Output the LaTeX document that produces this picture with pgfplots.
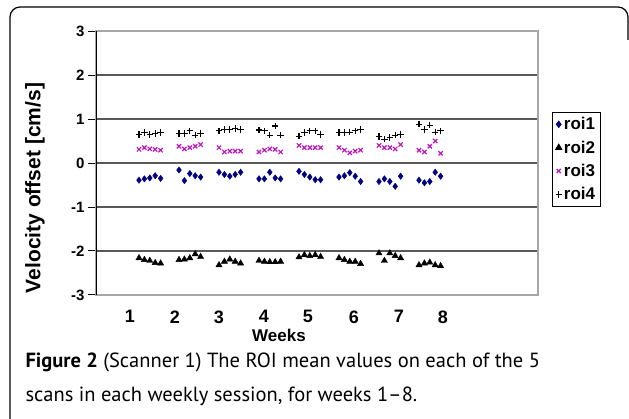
\documentclass[border=0pt]{standalone}
\usepackage{pgfplots}
\pgfplotsset{compat=1.18}
\usepackage{fontspec}
\setmainfont{Liberation Sans}
\newfontfamily\capfont{PT Sans}
\definecolor{roiblue}{RGB}{0,0,128}
\definecolor{roimag}{RGB}{190,20,190}
\begin{document}
\begin{tikzpicture}[x=1pt,y=1pt]
\path[use as bounding box] (0,0) rectangle (629,-419);
\draw[line width=1.2pt, rounded corners=10pt] (10,-430) -- (10,-7) -- (628,-7) -- (628,-40);
\begin{axis}[
  at={(96pt,-295pt)}, anchor=south west, scale only axis,
  width=442pt, height=264pt,
  xmin=-0.075, xmax=10.975, ymin=-3, ymax=3,
  ytick={-3,-2,-1,0,1,2,3},
  xtick={0.775,1.9,3.0,4.125,5.225,6.375,7.5,8.6},
  xticklabels={1,2,3,4,5,6,7,8},
  /pgf/number format/assume math mode=true,
  yticklabel style={font=\bfseries\fontsize{15}{15}\selectfont},
  xticklabel style={font=\bfseries\fontsize{18}{18}\selectfont, yshift=-4pt},
  x tick style={draw=none},
  ytick pos=left, tick align=outside, major tick length=8pt,
  y tick style={black, line width=1pt},
  ymajorgrids,
  grid style={black!65, line width=1.3pt},
  axis line style={draw=black!35, line width=1.2pt},
  legend style={at={(1.032,0.693)}, anchor=north west, draw=black, line width=0.8pt,
    font=\bfseries\fontsize{17}{19}\selectfont, inner sep=3pt, row sep=5.5pt,
    cells={anchor=west}},
  legend cell align=left,
]
\draw[black, line width=1.2pt] (rel axis cs:0,0) -- (rel axis cs:0,1);
\addplot[only marks, mark=diamond*, mark size=3.2pt, color=roiblue] coordinates {
(1.00,-0.39)(1.135,-0.36)(1.27,-0.34)(1.405,-0.29)(1.54,-0.35)
(2.00,-0.16)(2.135,-0.40)(2.27,-0.24)(2.405,-0.29)(2.54,-0.32)
(3.00,-0.21)(3.135,-0.26)(3.27,-0.30)(3.405,-0.26)(3.54,-0.21)
(4.00,-0.36)(4.135,-0.36)(4.27,-0.21)(4.405,-0.34)(4.54,-0.36)
(5.00,-0.19)(5.135,-0.26)(5.27,-0.32)(5.405,-0.38)(5.54,-0.38)
(6.00,-0.32)(6.135,-0.29)(6.27,-0.22)(6.405,-0.30)(6.54,-0.42)
(7.00,-0.42)(7.135,-0.36)(7.27,-0.42)(7.405,-0.53)(7.54,-0.30)
(8.00,-0.39)(8.135,-0.45)(8.27,-0.42)(8.405,-0.21)(8.54,-0.30)
};
\addlegendentry{roi1}
\addplot[only marks, mark=triangle*, mark size=3.6pt, color=black] coordinates {
(1.00,-2.16)(1.135,-2.20)(1.27,-2.22)(1.405,-2.27)(1.54,-2.28)
(2.00,-2.20)(2.135,-2.19)(2.27,-2.16)(2.405,-2.07)(2.54,-2.13)
(3.00,-2.32)(3.135,-2.24)(3.27,-2.19)(3.405,-2.24)(3.54,-2.28)
(4.00,-2.22)(4.135,-2.24)(4.27,-2.25)(4.405,-2.25)(4.54,-2.24)
(5.00,-2.14)(5.135,-2.09)(5.27,-2.11)(5.405,-2.09)(5.54,-2.13)
(6.00,-2.16)(6.135,-2.20)(6.27,-2.24)(6.405,-2.24)(6.54,-2.29)
(7.00,-2.05)(7.135,-2.22)(7.27,-2.05)(7.405,-2.11)(7.54,-2.16)
(8.00,-2.32)(8.135,-2.28)(8.27,-2.26)(8.405,-2.32)(8.54,-2.34)
};
\addlegendentry{roi2}
\addplot[only marks, mark=x, mark size=3pt, color=roimag, mark options={line width=1.2pt}] coordinates {
(1.00,0.31)(1.135,0.35)(1.27,0.32)(1.405,0.31)(1.54,0.29)
(2.00,0.38)(2.135,0.32)(2.27,0.35)(2.405,0.38)(2.54,0.42)
(3.00,0.35)(3.135,0.25)(3.27,0.27)(3.405,0.27)(3.54,0.27)
(4.00,0.25)(4.135,0.29)(4.27,0.32)(4.405,0.31)(4.54,0.25)
(5.00,0.40)(5.135,0.35)(5.27,0.35)(5.405,0.35)(5.54,0.35)
(6.00,0.35)(6.135,0.29)(6.27,0.23)(6.405,0.27)(6.54,0.29)
(7.00,0.40)(7.135,0.35)(7.27,0.35)(7.405,0.32)(7.54,0.42)
(8.00,0.29)(8.135,0.25)(8.27,0.38)(8.405,0.50)(8.54,0.22)
};
\addlegendentry{roi3}
\addplot[only marks, mark=+, mark size=3.2pt, color=black, mark options={line width=1.2pt}] coordinates {
(1.00,0.65)(1.135,0.69)(1.27,0.65)(1.405,0.67)(1.54,0.69)
(2.00,0.67)(2.135,0.67)(2.27,0.73)(2.405,0.63)(2.54,0.67)
(3.00,0.73)(3.135,0.76)(3.27,0.76)(3.405,0.78)(3.54,0.76)
(4.00,0.75)(4.135,0.73)(4.27,0.63)(4.405,0.84)(4.54,0.63)
(5.00,0.61)(5.135,0.69)(5.27,0.73)(5.405,0.73)(5.54,0.65)
(6.00,0.69)(6.135,0.69)(6.27,0.70)(6.405,0.73)(6.54,0.76)
(7.00,0.60)(7.135,0.54)(7.27,0.58)(7.405,0.63)(7.54,0.65)
(8.00,0.88)(8.135,0.76)(8.27,0.86)(8.405,0.70)(8.54,0.73)
};
\addlegendentry{roi4}
\end{axis}
\node[rotate=90, font=\bfseries\fontsize{21}{21}\selectfont] at (35,-188) {Velocity offset [cm/s]};
\node[font=\bfseries\fontsize{17}{17}\selectfont] at (279,-335) {Weeks};
\node[anchor=base west, font=\capfont\fontsize{20.5}{24}\selectfont] at (22,-368) {\textbf{Figure 2} (Scanner 1) The ROI mean values on each of the 5};
\node[anchor=base west, font=\capfont\fontsize{20.5}{24}\selectfont] at (22,-402) {scans in each weekly session, for weeks 1–8.};
\end{tikzpicture}
\end{document}
